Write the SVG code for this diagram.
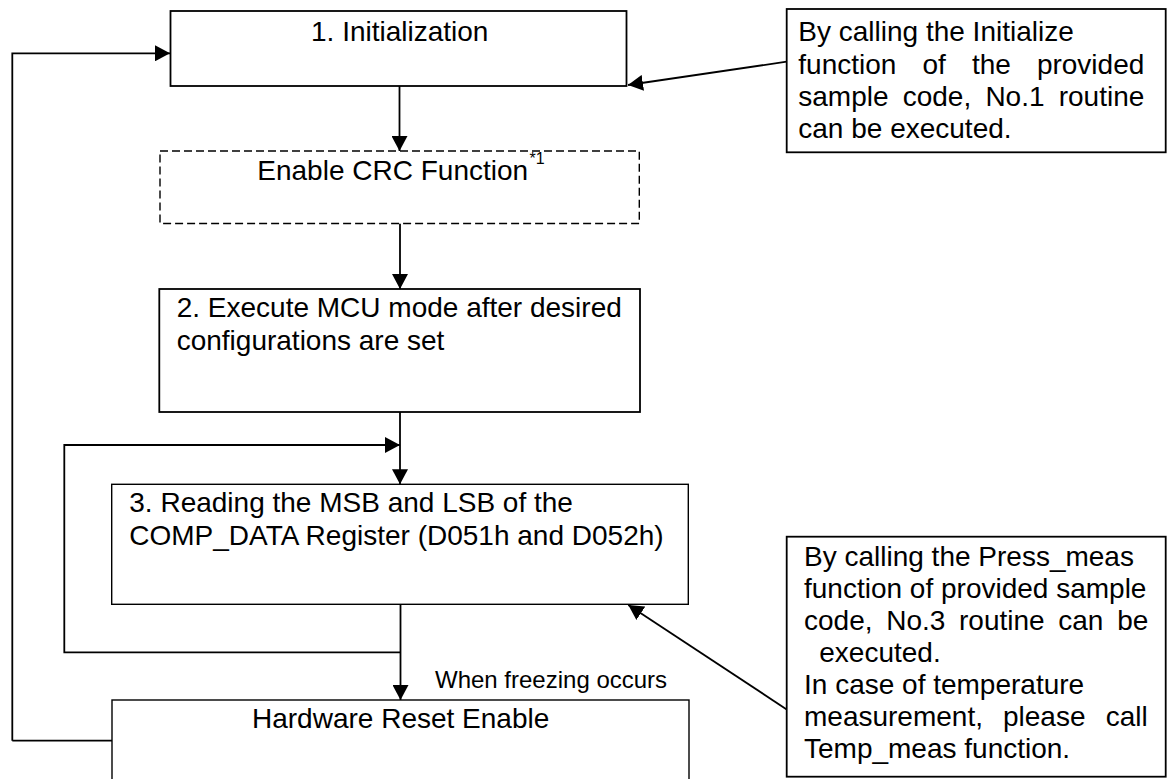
<svg xmlns="http://www.w3.org/2000/svg" width="1173" height="779" viewBox="0 0 1173 779">
  <style>
    text { font-family: "Liberation Sans", Arial, sans-serif; font-size: 28px; fill: #000; }
    .small { font-size: 24px; }
    .sup { font-size: 16px; }
    .end { text-anchor: end; }
    .box { fill: #fff; stroke: #000; stroke-width: 1.8; }
    .thin { stroke-width: 1.4; }
    .dash { fill: #fff; stroke: #000; stroke-width: 1.4; stroke-dasharray: 8 4; }
    .conn { fill: none; stroke: #000; stroke-width: 1.8; }
  </style>
  <defs>
    <marker id="arr" markerUnits="userSpaceOnUse" markerWidth="16" markerHeight="16" refX="15" refY="8" orient="auto">
      <path d="M0,0 L15,8 L0,16 z" fill="#000"/>
    </marker>
  </defs>
  <rect width="1173" height="779" fill="#fff"/>

  <g id="connectors">
    <path class="conn" d="M12.3,740.7 V53.3 H170" marker-end="url(#arr)"/>
    <line class="conn" x1="12.3" y1="740.7" x2="112" y2="740.7"/>
    <line class="conn" x1="786.7" y1="61.7" x2="628" y2="85" marker-end="url(#arr)"/>
    <line class="conn" x1="399.5" y1="86" x2="399.5" y2="151" marker-end="url(#arr)"/>
    <line class="conn" x1="400" y1="223.5" x2="400" y2="289" marker-end="url(#arr)"/>
    <line class="conn" x1="400" y1="412" x2="400" y2="484.3" marker-end="url(#arr)"/>
    <path class="conn" d="M400,652.3 H64.3 V445 H400" marker-end="url(#arr)"/>
    <line class="conn" x1="400.5" y1="604.3" x2="400.5" y2="700" marker-end="url(#arr)"/>
    <line class="conn" x1="786.7" y1="709.4" x2="628.3" y2="605" marker-end="url(#arr)"/>
    <text class="small" x="435" y="688.3">When freezing occurs</text>
  </g>

  <g id="node-init">
    <rect class="box" x="170.5" y="11" width="456" height="75"/>
    <text x="311" y="40.7">1. Initialization</text>
  </g>

  <g id="node-crc">
    <rect class="dash" x="160" y="151" width="479.3" height="72.5"/>
    <text x="257.3" y="180">Enable CRC Function</text>
    <text class="sup" x="529.5" y="164">*1</text>
  </g>

  <g id="node-mcu">
    <rect class="box" x="159.3" y="289" width="480.7" height="123"/>
    <text x="176.7" y="316.7">2. Execute MCU mode after desired</text>
    <text x="176.7" y="350.3">configurations are set</text>
  </g>

  <g id="node-read">
    <rect class="box thin" x="111.7" y="484.3" width="576.6" height="120"/>
    <text x="129.3" y="512.3">3. Reading the MSB and LSB of the</text>
    <text x="129.3" y="545">COMP_DATA Register (D051h and D052h)</text>
  </g>

  <g id="node-reset">
    <rect class="box thin" x="112" y="700" width="577" height="100"/>
    <text x="252" y="727.7">Hardware Reset Enable</text>
  </g>

  <g id="note-init">
    <rect class="box" x="786.7" y="9" width="379" height="143.3"/>
    <text x="798.3" y="40.7">By calling the Initialize</text>
    <text y="73.5"><tspan x="798.3">function</tspan><tspan x="922.5">of</tspan><tspan x="971.9">the</tspan><tspan x="1036.9">provided</tspan></text>
    <text y="105.5"><tspan x="798.3">sample</tspan><tspan x="902.7">code,</tspan><tspan x="985.4">No.1</tspan><tspan x="1058.7">routine</tspan></text>
    <text x="798.3" y="137.5">can be executed.</text>
  </g>

  <g id="note-press">
    <rect class="box" x="786.7" y="536.7" width="379" height="240"/>
    <text x="804" y="565.7">By calling the Press_meas</text>
    <text x="804" y="597.7">function of provided sample</text>
    <text y="629.7"><tspan x="804">code,</tspan><tspan x="886.2">No.3</tspan><tspan x="959">routine</tspan><tspan x="1058.3">can</tspan><tspan x="1117.2">be</tspan></text>
    <text x="819.3" y="661.7">executed.</text>
    <text x="804" y="693.7">In case of temperature</text>
    <text y="725.7"><tspan x="804">measurement,</tspan><tspan x="1003">please</tspan><tspan x="1105.7">call</tspan></text>
    <text x="804" y="757.7">Temp_meas function.</text>
  </g>
</svg>
